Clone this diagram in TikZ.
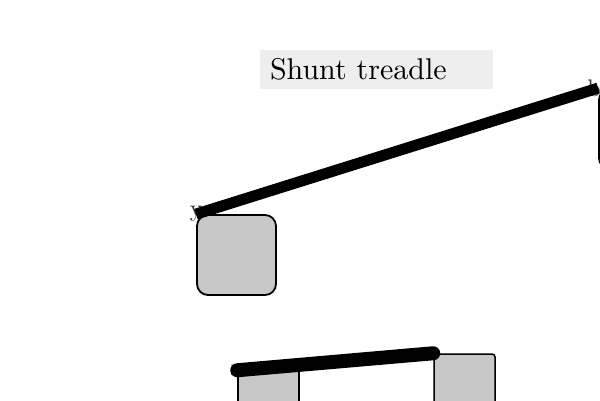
\documentclass[tikz,border=0pt]{standalone}
\definecolor{boxgray}{HTML}{C8C8C8}
\definecolor{titlegray}{HTML}{EEEEEE}
\definecolor{labelgray}{HTML}{333333}
\tikzset{
  treadlebox/.style={draw=black, fill=boxgray, line width=1.8pt, inner sep=0pt},
  cornerlabel/.style={text=labelgray, inner sep=0pt},
  rod/.style={draw=black, line width=11pt},
}
\begin{document}
\begin{tikzpicture}[x=1pt,y=1pt]
\useasboundingbox (0,0) rectangle (600,-400);
\node [fill=titlegray, text width=213pt, minimum height=39pt, inner xsep=10pt, inner ysep=0pt] (title) at (376.5,-69.5) {\scalebox{3}{Shunt treadle}};
% treadle blocks
\node [treadlebox, rounded corners=11pt, minimum width=79pt, minimum height=80pt] (upperL) at (236.5,-255) {};
\node [treadlebox, rounded corners=11pt, minimum width=79pt, minimum height=80pt] (upperR) at (638.5,-129) {};
\node [treadlebox, line width=1.5pt, minimum width=61pt, minimum height=60pt] (lowerL) at (268.5,-401) {};
\node [treadlebox, line width=1.5pt, rounded corners=3pt, minimum width=61pt, minimum height=60pt] (lowerR) at (464.5,-384) {};
% corner labels
\node [cornerlabel] (ly) at (upperL.north west) {\scalebox{2.4}{y}};
\node [cornerlabel, xshift=-4pt] (lb) at (upperR.north west) {\scalebox{2.4}{b}};
\node [cornerlabel] (lx) at (lowerL.north west) {\scalebox{2.4}{x}};
\node [cornerlabel] (la) at (lowerR.north west) {\scalebox{2.4}{a}};
% rods
\draw [rod] (upperL.north west) -- (upperR.north west);
\draw [rod, line width=14pt, line cap=round] (lowerL.north west) -- (lowerR.north west);
\end{tikzpicture}
\end{document}
